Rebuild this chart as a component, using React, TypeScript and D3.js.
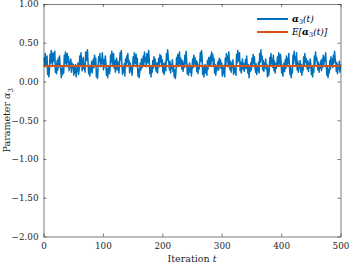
import React, { useRef, useEffect } from "react";
import * as d3 from "d3";

// alpha_3(t) per iteration (rough estimate)
const alphaRows: number[][] = [
  [.31,.22,.36,.19,.28,.33,.09,.18,.06,.14,.35,.24,.40,.29,.21,.37,.31,.26,.39,.12,.23,.10,.27,.15,.30,.19,.33,.21,.16,.05,.17,.09,.20,.11,.34,.23,.38,.30,.19,.36,.25,.32,.14,.26,.18,.29,.12,.24,.17,.22],
  [.08,.19,.11,.22,.06,.17,.13,.24,.09,.15,.33,.21,.37,.28,.14,.25,.31,.16,.23,.12,.38,.27,.35,.41,.24,.10,.21,.07,.18,.13,.26,.11,.20,.29,.18,.34,.22,.30,.06,.15,.04,.20,.32,.26,.36,.19,.29,.23,.37,.27],
  [.15,.28,.19,.33,.24,.08,.17,.05,.14,.20,.10,.16,.34,.25,.39,.22,.31,.36,.17,.27,.12,.23,.30,.15,.26,.19,.11,.24,.37,.28,.40,.21,.09,.18,.12,.23,.07,.29,.19,.33,.25,.36,.21,.27,.11,.24,.14,.20,.08,.18],
  [.32,.20,.37,.28,.23,.35,.19,.30,.07,.16,.05,.13,.24,.15,.29,.18,.22,.33,.21,.38,.26,.31,.19,.36,.28,.24,.40,.29,.10,.18,.06,.20,.12,.27,.17,.32,.21,.29,.16,.13,.24,.11,.22,.30,.19,.35,.25,.33,.22,.28],
  [.12,.23,.09,.19,.25,.14,.36,.27,.41,.31,.24,.15,.26,.11,.22,.17,.28,.13,.20,.06,.15,.04,.12,.31,.19,.35,.22,.28,.38,.21,.30,.26,.16,.27,.13,.24,.18,.34,.23,.39,.29,.10,.21,.08,.17,.24,.12,.19,.07,.16],
  [.29,.18,.34,.23,.31,.20,.27,.13,.25,.10,.21,.16,.24,.37,.26,.40,.32,.09,.19,.06,.16,.22,.11,.18,.08,.27,.16,.31,.20,.25,.33,.22,.38,.27,.35,.21,.30,.11,.22,.08,.19,.14,.23,.26,.15,.30,.19,.28,.17,.24],
  [.07,.18,.10,.21,.06,.30,.21,.36,.27,.33,.19,.38,.25,.15,.26,.12,.24,.18,.28,.09,.20,.12,.17,.08,.35,.24,.40,.30,.26,.37,.14,.25,.11,.22,.29,.16,.23,.13,.20,.28,.17,.33,.21,.11,.22,.05,.18,.13,.24,.15],
  [.30,.20,.35,.24,.32,.19,.12,.23,.09,.20,.14,.25,.11,.36,.25,.41,.28,.33,.15,.27,.13,.24,.18,.29,.16,.22,.06,.17,.08,.14,.31,.20,.36,.23,.29,.18,.34,.14,.26,.11,.23,.17,.24,.32,.21,.37,.27,.22,.35,.25],
  [.11,.21,.07,.18,.24,.13,.28,.17,.33,.20,.30,.24,.36,.19,.09,.19,.05,.15,.11,.34,.23,.39,.28,.32,.21,.37,.15,.26,.12,.23,.17,.27,.12,.22,.08,.19,.14,.32,.21,.36,.25,.30,.20,.16,.27,.13,.24,.18,.29,.22],
  [.09,.19,.06,.17,.12,.33,.22,.38,.27,.31,.24,.15,.25,.12,.22,.17,.27,.14,.29,.18,.34,.22,.31,.26,.37,.20,.08,.18,.05,.15,.11,.27,.16,.32,.20,.29,.18,.34,.24,.39,.29,.25,.13,.24,.10,.21,.16,.26,.12,.22],
];
const alpha3: number[] = alphaRows.flat();
const meanValue = 0.2;
const meanIters = [0, 500];
const yTicks = [1, 0.5, 0, -0.5, -1, -1.5, -2];
const xTicks = [0, 100, 200, 300, 400, 500];

const W = 349, H = 266;
const M = { left: 43.5, right: 8.5, top: 4, bottom: 29.5 };
const BLUE = "#0072BD", ORANGE = "#D95319", AX = "#262626";
const FONT = "DejaVu Serif";

const App = () => {
  const ref = useRef<SVGSVGElement>(null);

  useEffect(() => {
    const svg = d3.select(ref.current);
    svg.selectAll("*").remove();
    const pw = W - M.left - M.right;
    const ph = H - M.top - M.bottom;

    const x = d3.scaleLinear().domain([0, 500]).range([M.left, M.left + pw]);
    const y = d3.scaleLinear().domain([-2, 1]).range([M.top + ph, M.top]);

    svg.append("rect").attr("width", W).attr("height", H).attr("fill", "#fff");

    const line = d3.line<number>().x((_, i) => x(i + 1)).y((d) => y(d));
    svg.append("path").datum(alpha3)
      .attr("d", line).attr("fill", "none")
      .attr("stroke", BLUE).attr("stroke-width", 1.5).attr("stroke-linejoin", "round");

    svg.append("path").datum(meanIters)
      .attr("d", d3.line<number>().x((d) => x(d)).y(() => y(meanValue)))
      .attr("fill", "none").attr("stroke", ORANGE).attr("stroke-width", 2);

    // axes box with inward ticks on all sides
    const tl = 3;
    const bottom = d3.axisBottom(x).tickValues(xTicks).tickSizeInner(-tl).tickSizeOuter(0).tickPadding(6).tickFormat(d3.format("d"));
    const gb = svg.append("g").attr("transform", `translate(0,${M.top + ph})`).call(bottom);
    const left = d3.axisLeft(y).tickValues(yTicks).tickSizeInner(-tl).tickSizeOuter(0).tickPadding(5).tickFormat(d3.format(".2f"));
    const gl = svg.append("g").attr("transform", `translate(${M.left},0)`).call(left);
    const gt = svg.append("g").attr("transform", `translate(0,${M.top})`)
      .call(d3.axisTop(x).tickValues(xTicks).tickSizeInner(-tl).tickSizeOuter(0).tickFormat(() => ""));
    const gr = svg.append("g").attr("transform", `translate(${M.left + pw},0)`)
      .call(d3.axisRight(y).tickValues(yTicks).tickSizeInner(-tl).tickSizeOuter(0).tickFormat(() => ""));
    [gb, gl, gt, gr].forEach((g) => {
      g.attr("font-family", FONT).attr("font-size", 8.8);
      g.selectAll("path,line").attr("stroke", AX).attr("stroke-width", 0.6);
      g.selectAll("text").attr("fill", AX);
    });

    // axis labels
    svg.append("text").attr("x", M.left + pw / 2).attr("y", 262)
      .attr("text-anchor", "middle").attr("font-family", FONT).attr("font-size", 9.5).attr("fill", AX)
      .call((t) => { t.append("tspan").text("Iteration "); t.append("tspan").attr("font-style", "italic").text("t"); });

    const yl = svg.append("text").attr("transform", `translate(10,${M.top + ph / 2}) rotate(-90)`)
      .attr("text-anchor", "middle").attr("font-family", FONT).attr("font-size", 9.5).attr("fill", AX);
    yl.append("tspan").text("Parameter ");
    yl.append("tspan").attr("font-style", "italic").text("α");
    yl.append("tspan").attr("font-size", 7).attr("dy", 2.5).text("3");

    // legend
    const lg = svg.append("g").attr("font-family", FONT).attr("font-size", 9).attr("fill", "#000");
    const items = [
      { c: BLUE, pre: "", post: "(t)" },
      { c: ORANGE, pre: "E[", post: "(t)]" },
    ];
    items.forEach((it, i) => {
      const yy = 19 + i * 13;
      lg.append("line").attr("x1", 257).attr("x2", 288).attr("y1", yy).attr("y2", yy)
        .attr("stroke", it.c).attr("stroke-width", 2);
      const t = lg.append("text").attr("x", 292).attr("y", yy + 3.2).attr("font-style", "italic");
      if (it.pre) t.append("tspan").text(it.pre);
      t.append("tspan").attr("font-weight", "bold").text("α");
      t.append("tspan").attr("font-size", 6.5).attr("font-style", "normal").attr("dy", 2).text("3");
      t.append("tspan").attr("dy", -2).text(it.post);
    });
  }, []);

  return (
    <svg ref={ref} width={W} height={H}
      style={{ position: "absolute", left: 0, top: 0, display: "block" }} />
  );
};

export default App;
